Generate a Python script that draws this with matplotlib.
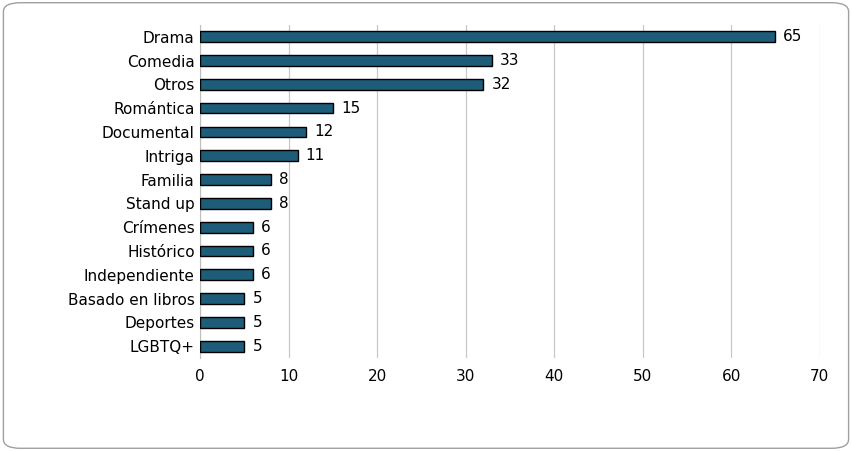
import matplotlib.pyplot as plt
from matplotlib.patches import FancyBboxPatch

generos = ['Drama', 'Comedia', 'Otros', 'Romántica', 'Documental', 'Intriga', 'Familia',
           'Stand up', 'Crímenes', 'Histórico', 'Independiente', 'Basado en libros', 'Deportes', 'LGBTQ+']
valores = [65, 33, 32, 15, 12, 11, 8, 8, 6, 6, 6, 5, 5, 5]

fig = plt.figure(figsize=(8.52, 4.51), dpi=100)
ax = fig.add_axes([0.235, 0.206, 0.727, 0.739])

y = list(range(len(generos)))[::-1]
ax.barh(y, valores, height=0.45, color='#1d5d7a', edgecolor='black', linewidth=1, zorder=3)
for yi, v in zip(y, valores):
    ax.text(v + 0.9, yi, str(v), va='center', ha='left', fontsize=11)

ax.set_yticks(y)
ax.set_yticklabels(generos, fontsize=11)
ax.set_xlim(0, 70)
ax.set_ylim(-0.5, len(generos) - 0.5)
ax.set_xticks(range(0, 71, 10))
ax.tick_params(axis='x', labelsize=11, length=0, pad=8)
ax.tick_params(axis='y', length=0, pad=4)
ax.grid(axis='x', color='#c8c8c8', linewidth=0.9, zorder=0)
for s in ['top', 'right', 'bottom']:
    ax.spines[s].set_visible(False)
ax.spines['left'].set_color('#bfbfbf')

# borde redondeado
fig.patches.append(FancyBboxPatch((0.004, 0.006), 0.992, 0.988, boxstyle='round,pad=0,rounding_size=0.02',
                                  transform=fig.transFigure, fill=False, edgecolor='#a0a0a0', linewidth=1))

plt.savefig('out.png')
